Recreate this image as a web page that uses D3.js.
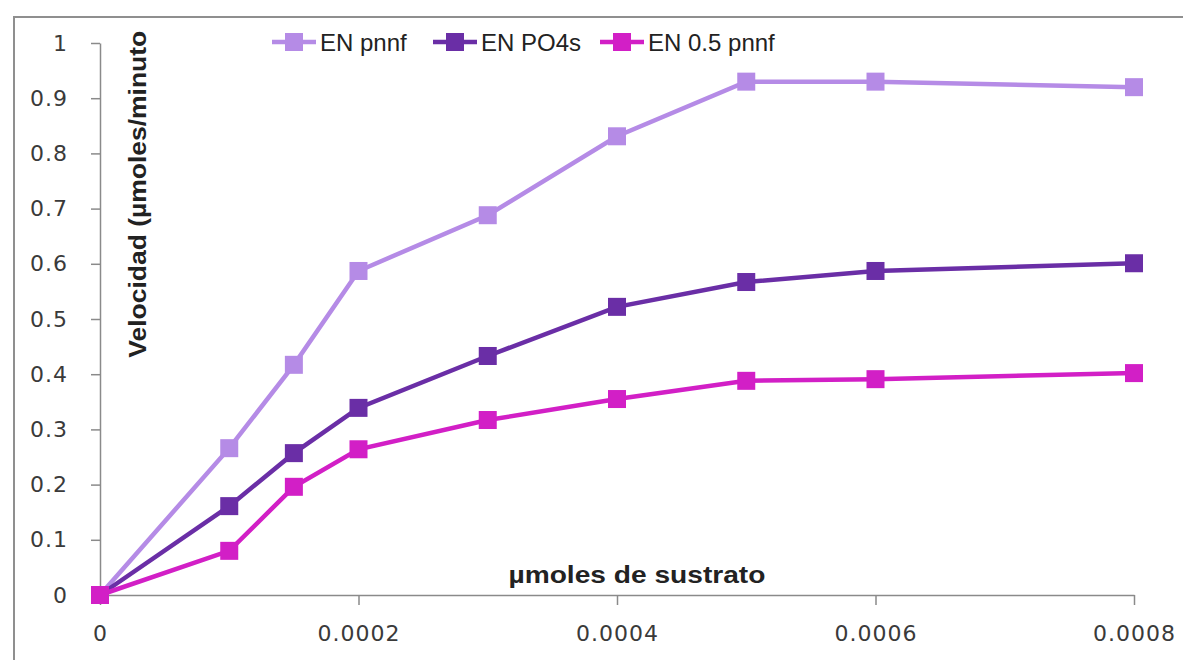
<!DOCTYPE html>
<html>
<head>
<meta charset="utf-8">
<script src="https://cdn.jsdelivr.net/npm/d3@7"></script>
<style>
  body { margin: 0; background: #fff; }
  .axis path, .axis line { stroke: #8a8a8a; stroke-width: 1.5; }
  .axis text { font-family: "DejaVu Sans", Verdana, sans-serif; font-size: 22px; letter-spacing: 1px; fill: #3a3a3a; }
</style>
</head>
<body>
<script>
// Data
const xValues = [0, 0.0001, 0.00015, 0.0002, 0.0003, 0.0004, 0.0005, 0.0006, 0.0008];
const seriesNames = ["EN pnnf", "EN PO4s", "EN 0.5 pnnf"];
const enPnnf   = [0, 0.266, 0.417, 0.587, 0.688, 0.831, 0.930, 0.930, 0.920];
const enPO4s   = [0, 0.161, 0.257, 0.339, 0.433, 0.522, 0.567, 0.587, 0.601];
const en05Pnnf = [0, 0.080, 0.196, 0.264, 0.317, 0.355, 0.388, 0.391, 0.402];
const xTicks = [0, 0.0002, 0.0004, 0.0006, 0.0008];
const yTicks = [0, 0.1, 0.2, 0.3, 0.4, 0.5, 0.6, 0.7, 0.8, 0.9, 1];
const colors = ["#b58be6", "#6a2ea6", "#d21fc6"];

const series = [enPnnf, enPO4s, en05Pnnf].map((vals, i) => ({
  name: seriesNames[i],
  color: colors[i],
  points: vals.map((v, j) => ({ x: xValues[j], y: v }))
}));

const outerWidth = 1183;
const outerHeight = 660;
const margin = { top: 43, right: 49, bottom: 65, left: 100 };
const width = outerWidth - margin.left - margin.right;
const height = outerHeight - margin.top - margin.bottom;

const svg = d3.select("body").append("svg")
  .attr("width", outerWidth)
  .attr("height", outerHeight);

// Chart frame (top and left edge of the spreadsheet chart area)
svg.append("path")
  .attr("d", `M14,${outerHeight} L14,17 L${outerWidth},17`)
  .attr("fill", "none")
  .attr("stroke", "#8f8f8f")
  .attr("stroke-width", 2);

const g = svg.append("g")
  .attr("transform", `translate(${margin.left},${margin.top})`);

const x = d3.scaleLinear().domain([0, 0.0008]).range([0, width]);
const y = d3.scaleLinear().domain([0, 1]).range([height, 0]);

// Axes
g.append("g")
  .attr("class", "axis x-axis")
  .attr("transform", `translate(0,${height})`)
  .call(d3.axisBottom(x)
    .tickValues(xTicks)
    .tickSize(10)
    .tickPadding(20)
    .tickSizeOuter(0)
    .tickFormat(d => d === 0 ? "0" : d.toFixed(4)));

g.append("g")
  .attr("class", "axis y-axis")
  .call(d3.axisLeft(y)
    .tickValues(yTicks)
    .tickSize(9)
    .tickPadding(23)
    .tickSizeOuter(0)
    .tickFormat(d => String(+d.toFixed(1))));

// Axis titles
g.append("text")
  .attr("x", x(0.000316))
  .attr("y", height - 12)
  .attr("font-family", "Liberation Sans, Arial, sans-serif")
  .attr("font-weight", "bold")
  .attr("font-size", 24)
  .attr("fill", "#222")
  .attr("textLength", 257)
  .attr("lengthAdjust", "spacingAndGlyphs")
  .text("µmoles de sustrato");

g.append("text")
  .attr("transform", `translate(${37},${y(0.726)}) rotate(-90)`)
  .attr("text-anchor", "middle")
  .attr("dominant-baseline", "central")
  .attr("font-family", "Liberation Sans, Arial, sans-serif")
  .attr("font-weight", "bold")
  .attr("font-size", 24)
  .attr("fill", "#222")
  .attr("textLength", 327)
  .attr("lengthAdjust", "spacingAndGlyphs")
  .text("Velocidad (µmoles/minuto");

// Lines and markers
const line = d3.line()
  .x(d => x(d.x))
  .y(d => y(d.y));

const sg = g.selectAll(".series")
  .data(series)
  .join("g")
  .attr("class", "series");

sg.append("path")
  .attr("d", d => line(d.points))
  .attr("fill", "none")
  .attr("stroke", d => d.color)
  .attr("stroke-width", 4.5);

sg.selectAll("rect")
  .data(d => d.points.map(p => ({ ...p, color: d.color })))
  .join("rect")
  .attr("x", d => x(d.x) - 9)
  .attr("y", d => y(d.y) - 9)
  .attr("width", 18)
  .attr("height", 18)
  .attr("fill", d => d.color);

// Legend across the top
const legendX = [272, 433, 600];
const legend = svg.append("g")
  .selectAll("g")
  .data(series)
  .join("g")
  .attr("transform", (d, i) => `translate(${legendX[i]},42)`);

legend.append("line")
  .attr("x1", 0).attr("x2", 44)
  .attr("stroke", d => d.color)
  .attr("stroke-width", 4.5);

legend.append("rect")
  .attr("x", 13).attr("y", -9)
  .attr("width", 18).attr("height", 18)
  .attr("fill", d => d.color);

legend.append("text")
  .attr("x", 48)
  .attr("dominant-baseline", "central")
  .attr("font-family", "Liberation Sans, Arial, sans-serif")
  .attr("font-size", 24)
  .attr("fill", "#222")
  .text(d => d.name);
</script>
</body>
</html>
